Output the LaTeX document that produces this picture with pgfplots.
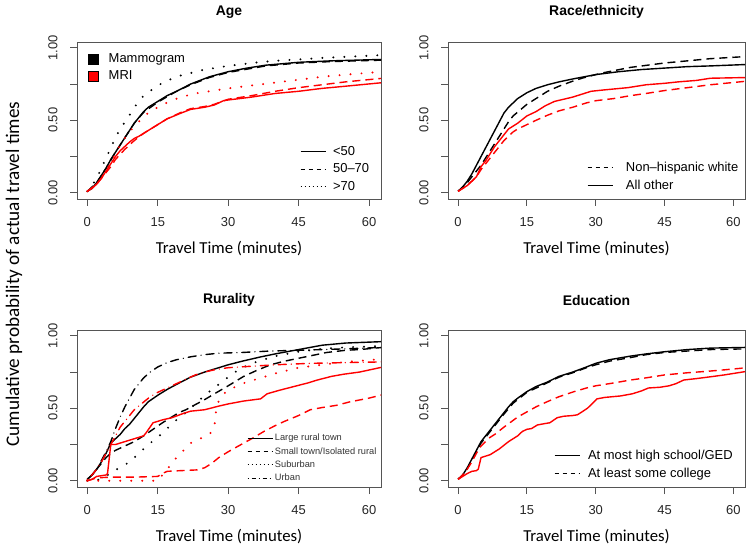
\documentclass[border=0pt]{standalone}
\usepackage{fontspec}
\setmainfont{Liberation Sans}
\newfontfamily\carlito{Carlito}
\usepackage{pgfplots}
\pgfplotsset{compat=1.18}
\definecolor{rred}{HTML}{FF0000}
\definecolor{boxgray}{HTML}{555555}

\pgfplotsset{
  panel/.style={
    scale only axis, anchor=south west,
    xmin=-2.2, xmax=62.55, ymin=-0.043, ymax=1.04,
    xtick={0,15,30,45,60}, xticklabels={0,15,30,45,60},
    ytick={0,0.25,0.5,0.75,1}, yticklabels={0.00,,0.50,,1.00},
    tick pos=left, tick align=outside, major tick length=7bp,
    axis line style={boxgray, line width=0.9bp},
    every tick/.style={boxgray, line width=0.9bp},
    tick label style={font=\fontsize{13}{13}\selectfont, text=black!85},
    xticklabel style={yshift=-8bp},
    yticklabel style={xshift=-9bp, rotate=90, anchor=south},
    xlabel={Travel Time (minutes)},
    xlabel style={font=\carlito\fontsize{16.8}{16.8}\selectfont, at={(axis description cs:0.5,0)}, anchor=center, yshift=-50bp},
    title style={font=\bfseries\fontsize{14}{14}\selectfont, at={(axis description cs:0.5,1)}, anchor=center, yshift=24bp},
    every axis plot/.append style={line width=1.4bp, no markers},
  },
  das/.style={dash pattern=on 8bp off 5bp},
  dot/.style={line width=2.2bp, line cap=round, dash pattern=on 0bp off 11bp},
  dd/.style={line cap=round, dash pattern=on 0bp off 5bp on 8bp off 5bp},
  leg/.style={hide axis, scale only axis, anchor=south west,
    xmin=0, xmax=1, ymin=0, ymax=1,
    legend style={draw=none, fill=none, inner sep=0pt, legend cell align=left}},
  linelegend/.style={legend image code/.code={\draw[##1, line width=0.8bp] (0bp,0bp) -- (25bp,0bp);}},
  gap/.style={legend style={/tikz/every odd column/.append style={column sep=#1}}},
}

\begin{document}
\begin{tikzpicture}
\useasboundingbox (0,0) rectangle (750bp,549bp);

% ---------------- Age ----------------
\begin{axis}[panel, at={(77bp,350bp)}, width=304bp, height=157bp, title={Age}]
\addplot[black] coordinates {(0,0.01)(1,0.03)(2,0.07)(3,0.12)(4,0.17)(5,0.23)(6,0.28)(7,0.33)(8,0.38)(9,0.43)(10,0.48)(11,0.52)(12,0.56)(13,0.59)(15,0.63)(17,0.67)(19,0.70)(22,0.75)(26,0.80)(30,0.835)(34,0.86)(38,0.88)(45,0.90)(52,0.91)(63,0.92)};
\addplot[black, das] coordinates {(0,0.01)(2,0.07)(4,0.17)(6,0.28)(8,0.38)(10,0.48)(12,0.555)(15,0.625)(19,0.70)(22,0.745)(26,0.795)(30,0.83)(38,0.875)(45,0.895)(52,0.905)(63,0.915)};
\addplot[black, dot] coordinates {(0,0.01)(1,0.05)(2,0.1)(3,0.17)(4,0.24)(5,0.31)(6,0.38)(7,0.44)(8.5,0.51)(10,0.59)(12,0.67)(15,0.74)(17.5,0.78)(20,0.81)(25,0.85)(30,0.875)(35,0.895)(40,0.91)(50,0.93)(63,0.95)};
\addplot[rred] coordinates {(0,0.01)(1,0.03)(2,0.06)(3,0.10)(4,0.15)(5,0.20)(6,0.25)(7,0.29)(8,0.32)(9,0.35)(10,0.375)(11,0.39)(12,0.41)(13,0.43)(15,0.47)(17,0.51)(20,0.55)(22,0.575)(25,0.59)(27,0.605)(29,0.635)(30,0.64)(35,0.66)(40,0.685)(45,0.70)(50,0.72)(55,0.735)(63,0.76)};
\addplot[rred, das] coordinates {(0,0.01)(2,0.06)(4,0.14)(5,0.18)(6,0.23)(8,0.30)(10,0.36)(12,0.41)(15,0.47)(17,0.51)(20,0.555)(22,0.58)(25,0.595)(27,0.61)(30,0.645)(35,0.67)(40,0.70)(45,0.725)(50,0.745)(55,0.765)(63,0.79)};
\addplot[rred, dot] coordinates {(0,0.01)(2,0.06)(4,0.15)(5,0.21)(6,0.27)(7,0.33)(8.5,0.40)(10,0.46)(12.5,0.54)(15,0.59)(17.5,0.63)(20,0.66)(23,0.685)(26,0.70)(30,0.72)(35,0.74)(40,0.76)(45,0.78)(50,0.80)(55,0.815)(63,0.835)};
\end{axis}
\begin{axis}[leg, at={(77bp,350bp)}, width=304bp, height=157bp, gap=8bp,
  legend style={at={(0.036,0.94)}, anchor=north west, font=\fontsize{13}{13}\selectfont, row sep=3bp},
  legend image code/.code={\draw[#1, line width=0.6bp] (0bp,-5bp) rectangle (10bp,5bp);}]
\addlegendimage{draw=black, fill=black}\addlegendentry{Mammogram}
\addlegendimage{draw=black, fill=rred}\addlegendentry{MRI}
\end{axis}
\begin{axis}[leg, at={(77bp,350bp)}, width=304bp, height=157bp, linelegend, gap=5bp,
  legend style={at={(0.734,0.35)}, anchor=north west, font=\fontsize{13}{13}\selectfont, row sep=3bp}]
\addlegendimage{black}\addlegendentry{<50}
\addlegendimage{black, dash pattern=on 4bp off 4bp}\addlegendentry{50\textendash70}
\addlegendimage{black, dash pattern=on 1bp off 3bp}\addlegendentry{>70}
\end{axis}

% ---------------- Race/ethnicity ----------------
\begin{axis}[panel, at={(448bp,350bp)}, width=297bp, height=157bp, title={Race/ethnicity}]
\addplot[black] coordinates {(0,0.01)(1,0.04)(2,0.08)(3,0.13)(4,0.19)(5,0.25)(6,0.31)(7,0.37)(8,0.43)(9,0.49)(10,0.55)(11,0.59)(12,0.62)(13,0.65)(15,0.69)(17,0.72)(19.5,0.745)(22,0.765)(25,0.785)(30,0.815)(35,0.835)(40,0.85)(45,0.86)(50,0.87)(55,0.875)(63,0.885)};
\addplot[black, das] coordinates {(0,0.01)(2,0.07)(3,0.11)(4,0.15)(5,0.19)(6,0.24)(7,0.29)(8,0.34)(9,0.39)(10,0.44)(11,0.49)(12,0.53)(13.5,0.57)(15,0.61)(17,0.65)(19.5,0.70)(22,0.735)(25,0.77)(27,0.79)(30,0.815)(32,0.83)(37.6,0.865)(45,0.895)(50,0.91)(55,0.925)(63,0.94)};
\addplot[rred] coordinates {(0,0.01)(2,0.05)(3,0.08)(4,0.11)(5,0.18)(6,0.22)(7,0.27)(8,0.32)(9,0.36)(10,0.40)(11,0.44)(12,0.46)(13,0.48)(15,0.53)(17,0.56)(19,0.60)(21,0.63)(23,0.645)(25,0.66)(27,0.68)(29,0.70)(32,0.71)(37,0.725)(41,0.745)(45,0.755)(48,0.765)(52,0.775)(55,0.79)(63,0.795)};
\addplot[rred, das] coordinates {(0,0.01)(2,0.05)(3,0.08)(4,0.11)(5,0.16)(6,0.2)(7,0.24)(8,0.28)(9,0.32)(10,0.36)(11,0.39)(12,0.42)(13,0.44)(15,0.47)(17,0.50)(19.5,0.535)(22,0.565)(25,0.59)(28,0.62)(30,0.635)(34,0.65)(37.6,0.67)(41,0.685)(45,0.705)(50,0.725)(55,0.745)(63,0.77)};
\end{axis}
\begin{axis}[leg, at={(448bp,350bp)}, width=297bp, height=157bp, linelegend, gap=11bp,
  legend style={at={(0.468,0.25)}, anchor=north west, font=\fontsize{13}{13}\selectfont, row sep=3bp}]
\addlegendimage{black, dash pattern=on 4bp off 4bp}\addlegendentry{Non\textendash hispanic white}
\addlegendimage{black}\addlegendentry{All other}
\end{axis}

% ---------------- Rurality ----------------
\begin{axis}[panel, at={(77bp,62bp)}, width=304bp, height=157bp, title={Rurality}]
\addplot[black] coordinates {(0,0.01)(1,0.04)(2,0.08)(3,0.13)(4,0.19)(5,0.26)(6,0.29)(7,0.32)(8,0.36)(9,0.39)(10,0.43)(11,0.47)(12,0.51)(13,0.545)(15,0.59)(17,0.63)(19,0.665)(22,0.715)(25,0.75)(28,0.78)(30,0.80)(33,0.825)(37,0.855)(40,0.875)(45,0.905)(50,0.935)(55,0.95)(63,0.96)};
\addplot[black, das] coordinates {(0,0.01)(1,0.04)(2,0.08)(3,0.12)(4,0.16)(5,0.19)(6,0.21)(8,0.24)(10,0.27)(12,0.31)(14,0.355)(16,0.40)(18,0.44)(19.5,0.47)(21,0.49)(22.7,0.52)(25,0.56)(27.6,0.61)(30,0.655)(33.3,0.72)(36,0.76)(39,0.80)(42,0.825)(45,0.845)(48,0.865)(51,0.885)(55,0.90)(58,0.905)(63,0.92)};
\addplot[black, dot] coordinates {(0,0)(3,0.01)(4,0.03)(5,0.06)(7,0.09)(9,0.13)(11,0.19)(13,0.25)(15,0.30)(17,0.36)(19,0.42)(21,0.47)(23,0.53)(25,0.59)(27,0.64)(29,0.69)(31,0.74)(33,0.78)(36,0.82)(40,0.86)(45,0.89)(50,0.91)(55,0.92)(63,0.93)};
\addplot[black, dd] coordinates {(0,0.01)(1,0.04)(2,0.08)(3,0.14)(4,0.2)(5,0.27)(6,0.36)(7,0.44)(8,0.51)(9,0.57)(10,0.63)(11,0.67)(12,0.71)(13.4,0.75)(15,0.785)(17,0.815)(19,0.835)(22,0.855)(25,0.87)(28,0.88)(33,0.885)(39,0.895)(45,0.90)(50,0.905)(55,0.91)(63,0.92)};
\addplot[rred] coordinates {(0,0)(1,0.01)(1.5,0.02)(2,0.03)(3,0.035)(4,0.04)(4.3,0.05)(5,0.25)(6,0.25)(8,0.27)(10,0.29)(12,0.31)(12.5,0.33)(14,0.40)(16,0.42)(18,0.435)(20.5,0.465)(22,0.48)(25,0.49)(28,0.515)(30,0.53)(33.3,0.55)(36.9,0.565)(38.3,0.60)(41,0.625)(44,0.65)(47,0.675)(49,0.695)(52,0.72)(54.6,0.735)(58,0.75)(63,0.785)};
\addplot[rred, das] coordinates {(0,0)(1,0.01)(2,0.02)(5,0.025)(10,0.025)(15,0.03)(16,0.05)(17,0.065)(20,0.07)(23.4,0.075)(25,0.09)(26.5,0.12)(28,0.16)(30,0.2)(33.3,0.26)(35,0.29)(37.6,0.34)(40,0.38)(42,0.41)(45,0.45)(47.5,0.49)(50,0.505)(53,0.52)(56,0.545)(60,0.57)(63,0.595)};
\addplot[rred, dot] coordinates {(0,0)(5,0)(10,0)(15,0)(16,0.04)(17,0.08)(18,0.12)(19,0.16)(20,0.19)(21,0.23)(22,0.26)(24,0.29)(26,0.32)(27,0.36)(27.5,0.50)(28,0.55)(29,0.60)(31,0.64)(33,0.67)(36,0.70)(40,0.74)(45,0.78)(50,0.80)(55,0.82)(63,0.84)};
\addplot[rred, dd] coordinates {(0,0.01)(1,0.04)(2,0.08)(3,0.13)(4,0.19)(5,0.25)(6,0.31)(7,0.37)(8,0.41)(9,0.45)(10,0.49)(11.5,0.53)(13.4,0.58)(15,0.61)(17,0.64)(19,0.67)(21,0.70)(23,0.73)(25,0.75)(27,0.765)(30,0.78)(35,0.79)(40,0.80)(47.5,0.81)(55,0.815)(63,0.82)};
\end{axis}
\begin{axis}[leg, at={(77bp,62bp)}, width=304bp, height=157bp, linelegend, gap=0bp,
  legend style={at={(0.559,0.35)}, anchor=north west, font=\fontsize{9.3}{9.3}\selectfont, text=black!80, row sep=1bp}]
\addlegendimage{black}\addlegendentry{Large rural town}
\addlegendimage{black, dash pattern=on 4bp off 4bp}\addlegendentry{Small town/Isolated rural}
\addlegendimage{black, dash pattern=on 1bp off 3bp}\addlegendentry{Suburban}
\addlegendimage{black, dash pattern=on 1bp off 3bp on 4bp off 3bp}\addlegendentry{Urban}
\end{axis}

% ---------------- Education ----------------
\begin{axis}[panel, at={(448bp,62bp)}, width=297bp, height=157bp, title={Education}]
\addplot[black] coordinates {(0,0.01)(1,0.04)(2,0.09)(3,0.15)(4,0.21)(5,0.27)(6,0.31)(7,0.35)(8,0.39)(9,0.43)(10,0.47)(11,0.51)(12,0.545)(13,0.57)(15,0.615)(17,0.65)(19.4,0.68)(22,0.72)(25,0.75)(28,0.785)(30,0.81)(33,0.835)(37.6,0.86)(41,0.875)(45,0.89)(50,0.905)(55,0.915)(63,0.92)};
\addplot[black, das] coordinates {(0,0.01)(1,0.04)(2,0.085)(3,0.14)(4,0.2)(5,0.26)(6,0.30)(8,0.38)(10,0.46)(12,0.535)(15,0.61)(19.4,0.675)(22,0.715)(25,0.745)(28,0.78)(30,0.80)(33,0.825)(37.6,0.85)(41,0.87)(45,0.885)(50,0.895)(55,0.905)(63,0.91)};
\addplot[rred] coordinates {(0,0.01)(1,0.03)(2,0.05)(3,0.065)(4,0.07)(4.4,0.08)(5,0.16)(6,0.17)(7,0.18)(8,0.2)(9,0.22)(10,0.245)(11,0.27)(12,0.29)(13,0.31)(14,0.34)(15,0.355)(16,0.36)(17.3,0.385)(19,0.395)(20,0.40)(21.6,0.435)(23,0.445)(25,0.45)(26,0.455)(27,0.475)(28.2,0.50)(30.3,0.565)(32,0.575)(35.4,0.585)(38,0.60)(40,0.62)(41.5,0.64)(44,0.645)(46,0.655)(47.5,0.67)(49.2,0.695)(52,0.705)(55.7,0.72)(58,0.73)(60,0.74)(63,0.755)};
\addplot[rred, das] coordinates {(0,0.01)(1,0.04)(2,0.08)(3,0.13)(4,0.19)(5,0.24)(6,0.27)(7,0.30)(8,0.32)(10,0.37)(11.5,0.405)(13,0.44)(15,0.475)(17,0.51)(19.4,0.545)(22,0.58)(25.3,0.615)(28,0.64)(30,0.655)(34,0.675)(37.6,0.695)(41,0.71)(45,0.73)(50,0.745)(54.3,0.755)(58,0.765)(63,0.78)};
\end{axis}
\begin{axis}[leg, at={(448bp,62bp)}, width=297bp, height=157bp, linelegend, gap=6bp,
  legend style={at={(0.357,0.25)}, anchor=north west, font=\fontsize{13}{13}\selectfont, row sep=3bp}]
\addlegendimage{black}\addlegendentry{At most high school/GED}
\addlegendimage{black, dash pattern=on 4bp off 4bp}\addlegendentry{At least some college}
\end{axis}

\node[rotate=90, font=\carlito\fontsize{19.3}{19.3}\selectfont] at (14bp,275bp) {Cumulative probability of actual travel times};
\end{tikzpicture}
\end{document}
